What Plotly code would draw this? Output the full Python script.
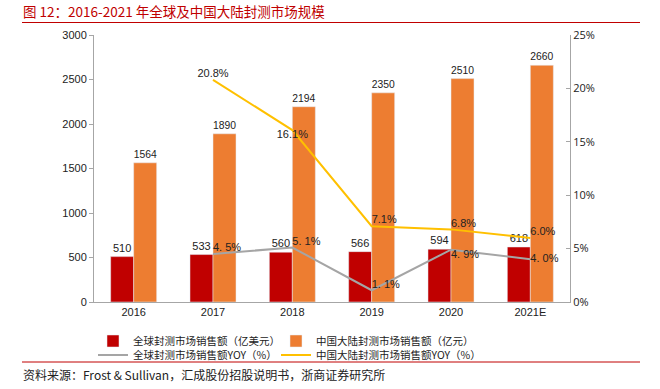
import plotly.graph_objects as go

years = ["2016", "2017", "2018", "2019", "2020", "2021E"]
global_sales = [510, 533, 560, 566, 594, 618]
china_sales = [1564, 1890, 2194, 2350, 2510, 2660]
yoy_years = ["2017", "2018", "2019", "2020", "2021E"]
global_yoy = [4.5, 5.1, 1.1, 4.9, 4.0]
global_yoy_text = ["4. 5%", "5. 1%", "1. 1%", "4. 9%", "4. 0%"]
china_yoy = [20.8, 16.1, 7.1, 6.8, 6.0]
china_yoy_text = ["20.8%", "16.1%", "7.1%", "6.8%", "6.0%"]

left_ticks = [0, 500, 1000, 1500, 2000, 2500, 3000]
right_ticks = [0, 5, 10, 15, 20, 25]
right_tick_text = ["0%", "5%", "10%", "15%", "20%", "25%"]

CJK = "Noto Sans CJK SC"
TXT = "#222222"

fig = go.Figure()
fig.add_trace(go.Bar(
    x=years, y=global_sales, name="全球封测市场销售额（亿美元）",
    marker_color="#C00000", text=[str(v) for v in global_sales],
    textposition="outside", textfont=dict(family="Liberation Sans", size=11, color=TXT),
    cliponaxis=False, legend="legend"))
fig.add_trace(go.Bar(
    x=years, y=china_sales, name="中国大陆封测市场销售额（亿元）",
    marker_color="#ED7D31", text=[str(v) for v in china_sales],
    textposition="outside", textfont=dict(family="Liberation Sans", size=11, color=TXT),
    cliponaxis=False, legend="legend2"))
fig.add_trace(go.Scatter(
    x=yoy_years, y=global_yoy, name="全球封测市场销售额YOY（%）", mode="lines+text",
    line=dict(color="#A5A5A5", width=2), text=global_yoy_text,
    textposition=["top right", "top right", "top right", "bottom right", "middle right"],
    textfont=dict(family="Liberation Sans", size=11, color=TXT),
    yaxis="y2", cliponaxis=False, legend="legend3"))
fig.add_trace(go.Scatter(
    x=yoy_years, y=china_yoy, name="中国大陆封测市场销售额YOY（%）", mode="lines+text",
    line=dict(color="#FFC000", width=2), text=china_yoy_text,
    textposition=["top center", "bottom center", "top right", "top right", "top right"],
    textfont=dict(family="Liberation Sans", size=11, color=TXT),
    yaxis="y2", cliponaxis=False, legend="legend4"))

legend_common = dict(orientation="v", xanchor="left", yanchor="middle",
                     font=dict(family=CJK, size=10.5, color=TXT), itemwidth=30,
                     bgcolor="rgba(0,0,0,0)")

def px_x(p):
    return (p - 94) / 476

def px_y(p):
    return (302 - p) / 267

fig.update_layout(
    width=660, height=389,
    margin=dict(l=94, r=90, t=35, b=87, autoexpand=False),
    paper_bgcolor="white", plot_bgcolor="white",
    barmode="group", bargap=0.42, bargroupgap=0,
    showlegend=True,
    legend=dict(x=px_x(93), y=px_y(341), **legend_common),
    legend2=dict(x=px_x(276), y=px_y(341), **legend_common),
    legend3=dict(x=px_x(93), y=px_y(355), **legend_common),
    legend4=dict(x=px_x(276), y=px_y(355), **legend_common),
    xaxis=dict(type="category", showline=True, linecolor="#A6A6A6", linewidth=1,
               ticks="", tickfont=dict(family="Liberation Sans", size=11, color=TXT),
               showgrid=False),
    yaxis=dict(range=[0, 3000], tickvals=left_ticks, showline=True, linecolor="#A6A6A6",
               ticks="outside", ticklen=4, tickcolor="#A6A6A6", showgrid=False,
               tickfont=dict(family="Liberation Sans", size=11, color=TXT), zeroline=False),
    yaxis2=dict(range=[0, 25], tickvals=right_ticks, ticktext=right_tick_text,
                overlaying="y", side="right", showline=True, linecolor="#A6A6A6",
                ticks="inside", ticklen=4, tickcolor="#A6A6A6", showgrid=False,
                tickfont=dict(family="Open Sans", size=11, color=TXT), zeroline=False),
    annotations=[
        dict(text="图 12：2016-2021 年全球及中国大陆封测市场规模", xref="paper", yref="paper",
             x=px_x(21), y=px_y(11), xanchor="left", yanchor="middle",
             showarrow=False, font=dict(family=CJK, size=13.5, color="#C00000")),
        dict(text="资料来源：Frost & Sullivan，汇成股份招股说明书，浙商证券研究所", xref="paper", yref="paper",
             x=px_x(21), y=px_y(374), xanchor="left", yanchor="middle",
             showarrow=False, font=dict(family=CJK, size=12, color=TXT)),
    ],
    shapes=[
        dict(type="line", xref="paper", yref="paper", x0=px_x(22), x1=px_x(640),
             y0=px_y(22.5), y1=px_y(22.5), line=dict(color="#C00000", width=1)),
        dict(type="line", xref="paper", yref="paper", x0=px_x(22), x1=px_x(640),
             y0=px_y(362), y1=px_y(362), line=dict(color="#C00000", width=1)),
    ],
)

fig.write_html("out.html", config={"displayModeBar": False},
               post_script="document.body.style.margin='0';")
